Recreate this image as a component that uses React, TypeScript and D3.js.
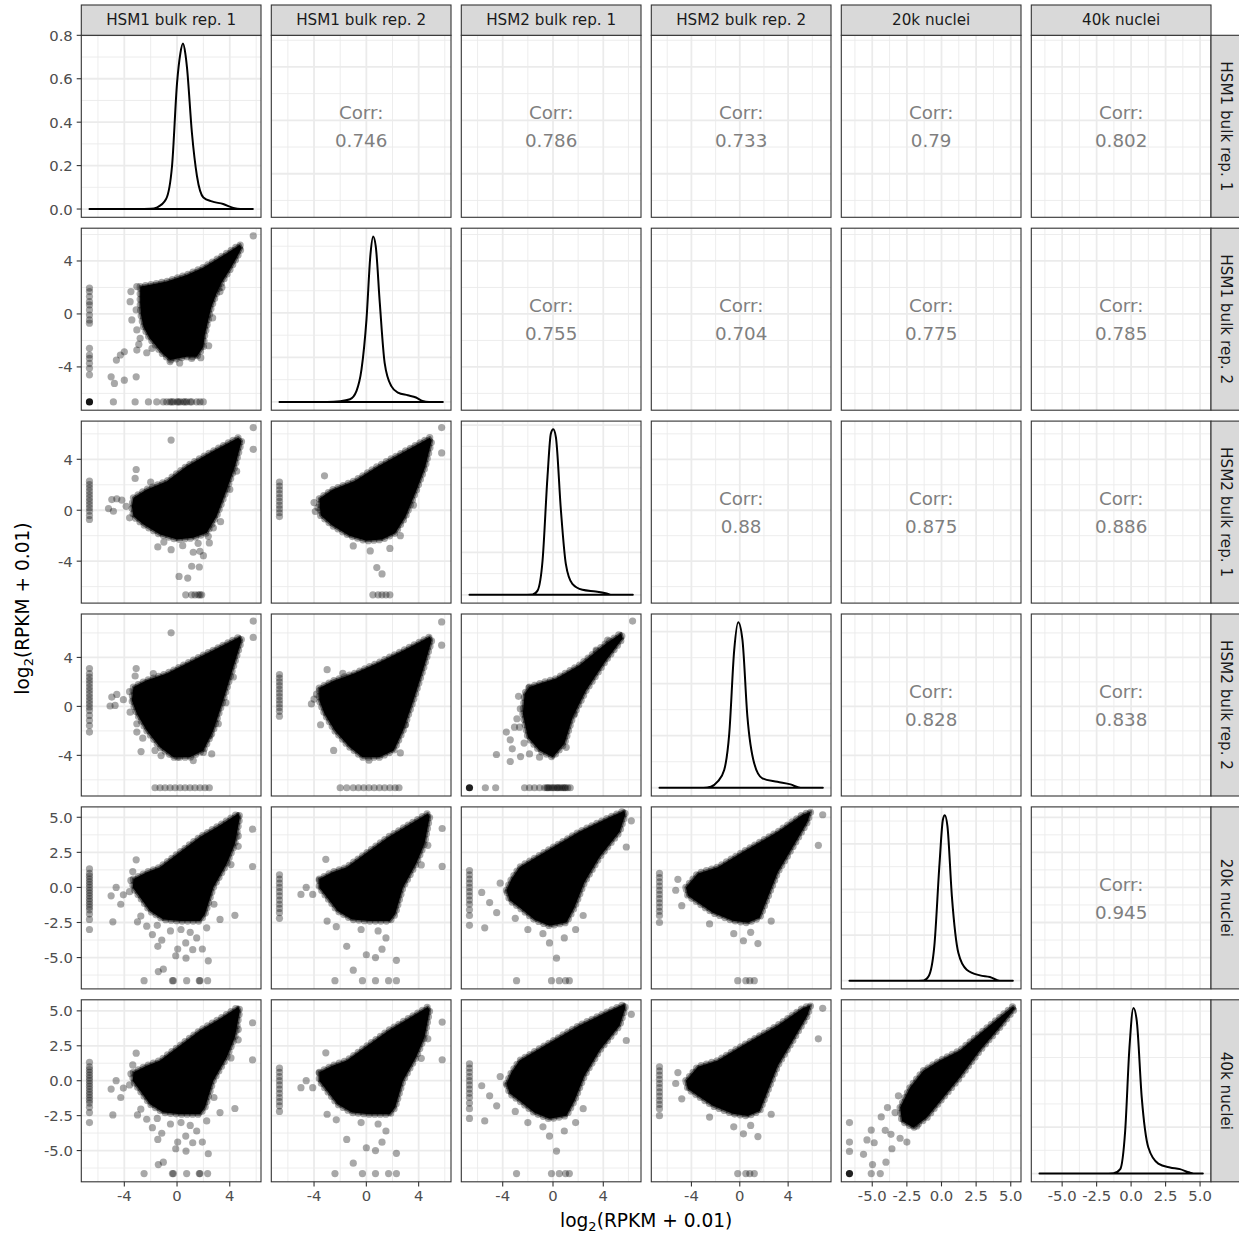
import React from "react";
import * as d3 from "d3";

type Pt = [number, number];

// ---------------- data ----------------
const LOG0 = -6.644; // log2(0 + 0.01)
const VARS = ["HSM1 bulk rep. 1", "HSM1 bulk rep. 2", "HSM2 bulk rep. 1", "HSM2 bulk rep. 2", "20k nuclei", "40k nuclei"];
const VAR_MAX = [5.75, 5.85, 6.35, 6.87, 5.15, 5.2];
const AXIS_STEP = [4, 4, 4, 4, 2.5, 2.5];
const DENS_STEP = 0.2;

const CORR: [number, number, string][] = [
  [0, 1, "0.746"], [0, 2, "0.786"], [0, 3, "0.733"], [0, 4, "0.79"], [0, 5, "0.802"],
  [1, 2, "0.755"], [1, 3, "0.704"], [1, 4, "0.775"], [1, 5, "0.785"],
  [2, 3, "0.88"], [2, 4, "0.875"], [2, 5, "0.886"],
  [3, 4, "0.828"], [3, 5, "0.838"],
  [4, 5, "0.945"],
];

const DENS_1: Pt[] = [[-6.644, 0], [-3, 0], [-2, 0.001], [-1.5, 0.008], [-0.83, 0.046], [-0.38, 0.198], [0, 0.58], [0.25, 0.716], [0.45, 0.762], [0.63, 0.716], [0.75, 0.655], [1.13, 0.35], [1.51, 0.152], [2.0, 0.053], [2.64, 0.035], [3.5, 0.023], [4.27, 0.005], [4.8, 0], [5.75, 0]];
const DENS_2: Pt[] = [[-6.644, 0], [-3, 0], [-2, 0.003], [-1.25, 0.012], [-0.75, 0.05], [-0.37, 0.146], [0.01, 0.37], [0.32, 0.667], [0.52, 0.744], [0.72, 0.70], [1.03, 0.444], [1.4, 0.176], [1.91, 0.071], [2.42, 0.042], [3.17, 0.03], [3.8, 0.02], [4.3, 0.004], [4.8, 0], [5.85, 0]];
const DENS_3: Pt[] = [[-6.644, 0], [-2.5, 0], [-1.62, 0.002], [-1.23, 0.02], [-0.83, 0.162], [-0.44, 0.555], [-0.17, 0.76], [0.02, 0.78], [0.23, 0.743], [0.63, 0.398], [1.02, 0.146], [1.54, 0.052], [2.34, 0.024], [3.4, 0.016], [4.19, 0.008], [4.71, 0], [6.35, 0]];
const DENS_4: Pt[] = [[-6.644, 0], [-3, 0], [-2.39, 0.004], [-1.84, 0.023], [-1.29, 0.068], [-0.87, 0.209], [-0.46, 0.53], [-0.13, 0.636], [0.22, 0.568], [0.63, 0.273], [1.19, 0.094], [1.87, 0.036], [3.11, 0.023], [4.2, 0.013], [5.03, 0], [6.87, 0]];
const DENS_5: Pt[] = [[-6.644, 0], [-2, 0], [-1.29, 0.001], [-0.93, 0.019], [-0.52, 0.15], [-0.14, 0.516], [0.1, 0.706], [0.24, 0.726], [0.43, 0.677], [0.75, 0.37], [1.22, 0.121], [1.82, 0.048], [2.78, 0.023], [3.49, 0.016], [4.21, 0], [5.15, 0]];
const DENS_6: Pt[] = [[-6.644, 0], [-2, 0], [-1.28, 0.001], [-0.79, 0.019], [-0.43, 0.184], [-0.12, 0.543], [0.17, 0.713], [0.41, 0.658], [0.77, 0.328], [1.25, 0.112], [1.97, 0.043], [2.82, 0.026], [3.54, 0.019], [4.26, 0.004], [4.7, 0], [5.2, 0]];
const DENSITIES = [DENS_1, DENS_2, DENS_3, DENS_4, DENS_5, DENS_6];

// scatter panels: dense core outline, points at x = LOG0 (y values), points at y = LOG0 (x values), other points
const HULL_21: Pt[] = [[-2.8, 2.07], [-2.05, 2.2], [-0.8, 2.45], [0.73, 2.95], [2.0, 3.5], [2.75, 3.96], [3.8, 4.6], [4.77, 5.23], [4.9, 4.98], [4.5, 4.2], [4.0, 3.33], [3.4, 2.4], [3.0, 1.57], [2.6, 0.5], [2.37, -0.45], [2.1, -1.6], [2.0, -2.48], [1.5, -3.23], [0.73, -3.23], [-0.53, -3.48], [-1.1, -3.0], [-1.54, -2.48], [-2.1, -1.8], [-2.55, -0.96], [-2.75, 0.0], [-2.8, 0.81]];
const ZX_21 = [1.95, 1.69, 1.31, 0.93, 0.68, 0.3, -0.08, -0.45, -0.7, -2.6, -3.1, -3.36, -3.73, -4.1, -4.6];
const ZY_21 = [-4.83, -3.18, -2.17, -1.54, -1.04, -0.78, -0.53, -0.28, 0, 0.23, 0.48, 0.73, 1.11, 1.49, 1.74, 1.99, -0.4, 0.1, 0.6, 1.0];
const PTS_21: Pt[] = [[-5, -4.75], [-4.75, -5.25], [-4.0, -5.0], [-3.1, -4.75], [-4.6, -3.48], [-4.3, -3.1], [-4.0, -2.86], [-3.05, -2.73], [-2.3, -2.93], [-2.8, -1.84], [-3.05, -1.21], [-3.43, -0.45], [-3.56, 0.93], [-3.5, 1.69], [-3.05, 2.07], [5.78, 5.9], [3.26, 1.69], [-0.53, -3.6], [1.11, -3.36], [-3.1, 0.3], [-2.9, -2.3], [-1.9, -2.6], [0.2, -3.7], [1.8, -3.3], [2.4, -2.4], [2.7, -0.3], [3.4, 2.0]];

const HULL_31: Pt[] = [[-3.31, 0.98], [-2.3, 1.63], [-0.78, 2.28], [0.73, 3.46], [2.75, 4.65], [4.64, 5.7], [4.9, 5.43], [4.4, 3.46], [3.77, 1.63], [3.0, -0.47], [2.25, -1.78], [1.23, -2.17], [0.0, -2.3], [-1.29, -1.91], [-2.55, -1.13], [-3.31, -0.47], [-3.43, 0.31]];
const ZX_31 = [2.28, 2.02, 1.76, 1.5, 1.23, 0.97, 0.71, 0.45, 0.18, -0.08, -0.42, -0.73];
const ZY_31 = [0.66, 1.11, 1.36, 1.61, 1.74, 1.87];
const PTS_31: Pt[] = [[-0.45, 5.51], [-3.1, 3.2], [-3.18, 2.5], [-4.95, 0.84], [-4.57, 0.9], [-4.19, 0.79], [-5.2, 0.13], [-4.83, -0.08], [-3.86, 0.31], [-1.46, -2.88], [-0.45, -3.1], [0.43, -2.78], [1.23, -3.3], [1.74, -3.23], [2.0, -3.57], [2.45, -2.57], [2.37, -2.05], [2.75, -1.39], [1.11, -4.4], [1.69, -4.46], [0.15, -5.2], [0.81, -5.33], [5.78, 6.49], [5.78, 4.78], [4.52, 3.07], [4.0, 1.63], [-3.6, -0.6], [-2.0, 2.2], [-1.0, -2.5], [1.6, -2.6], [3.3, -0.9]];

const HULL_32: Pt[] = [[-3.6, 0.9], [-2.6, 1.6], [-0.9, 2.3], [0.8, 3.4], [2.9, 4.6], [4.85, 5.7], [5.0, 5.45], [4.5, 3.4], [3.8, 1.5], [3.0, -0.5], [2.2, -1.8], [1.2, -2.3], [0.0, -2.4], [-1.3, -2.0], [-2.6, -1.2], [-3.5, -0.4]];
const ZX_32 = [2.2, 1.9, 1.6, 1.3, 1.0, 0.7, 0.4, 0.1, -0.2, -0.5];
const ZY_32 = [0.5, 0.9, 1.2, 1.5, 1.8];
const PTS_32: Pt[] = [[5.76, 6.49], [5.76, 4.5], [-4.0, 0.6], [-3.9, -0.1], [0.8, -4.5], [1.2, -5.0], [0.3, -3.2], [1.8, -3.0], [-1.0, -2.8], [-3.2, 2.7], [-3.7, 0.2], [2.6, -2.0], [3.6, 0.4]];

const HULL_41: Pt[] = [[-3.31, 1.58], [-2.3, 2.13], [-0.78, 2.68], [0.73, 3.5], [2.75, 4.59], [4.77, 5.68], [4.9, 5.41], [4.27, 3.22], [3.5, 0.49], [2.75, -1.97], [2.0, -3.6], [0.98, -4.15], [-0.28, -4.15], [-1.29, -3.34], [-2.3, -1.97], [-3.05, -0.6], [-3.43, 0.49]];
const ZX_41 = [3.09, 2.68, 2.4, 2.13, 1.86, 1.58, 1.31, 1.04, 0.76, 0.49, 0.22, -0.05, -0.33, -0.74, -1.15, -1.56, -2.1];
const ZY_41 = [-1.67, -1.29, -0.91, -0.53, -0.15, 0.23, 0.61, 0.98, 1.36, 1.74, 2.12, 2.45];
const PTS_41: Pt[] = [[-0.45, 6.01], [5.78, 6.97], [5.78, 5.63], [-3.1, 3.09], [-3.18, 2.48], [-1.8, 2.68], [-4.95, 0.76], [-4.57, 0.98], [-4.07, 0.55], [-5.08, 0.03], [-4.7, 0.08], [-3.56, -0.47], [-3.05, -1.42], [-3.05, -2.1], [-2.73, -3.69], [-1.67, -3.6], [-1.21, -4.02], [0.05, -4.15], [1.23, -4.43], [2.0, -3.75], [2.63, -3.88], [2.5, -2.38], [3.13, -1.42], [4.27, 2.4], [-3.6, 1.2], [-2.6, -2.6], [3.7, 0.3]];

const HULL_42: Pt[] = [[-3.6, 1.5], [-2.5, 2.1], [-0.9, 2.7], [0.8, 3.5], [2.9, 4.6], [4.85, 5.68], [5.0, 5.4], [4.4, 3.2], [3.6, 0.5], [2.8, -2.0], [2.1, -3.6], [1.0, -4.15], [-0.3, -4.15], [-1.3, -3.3], [-2.4, -2.0], [-3.2, -0.6], [-3.6, 0.5]];
const ZX_42 = [2.6, 2.3, 2.0, 1.7, 1.4, 1.1, 0.8, 0.5, 0.2, -0.1, -0.4, -0.8];
const ZY_42 = [-2.0, -1.5, -1.0, -0.6, -0.2, 0.2, 0.6, 1.0, 1.4, 1.8, 2.2, 2.5];
const PTS_42: Pt[] = [[5.76, 6.9], [5.76, 5.0], [-4.0, 0.6], [-4.2, 0.2], [-3.5, -1.5], [-2.5, -3.6], [2.6, -3.8], [0.2, -4.4], [-1.8, 2.7], [-3.0, 3.0], [-3.8, 1.0], [3.0, -1.5]];

const HULL_43: Pt[] = [[-1.87, 1.58], [-1.07, 1.86], [0.25, 2.27], [2.1, 3.36], [4.22, 5.14], [5.41, 5.96], [5.54, 5.55], [4.22, 3.77], [2.63, 1.31], [1.57, -0.87], [0.91, -3.06], [-0.02, -4.15], [-1.07, -3.61], [-2.0, -2.52], [-2.4, -0.6], [-2.26, 1.04]];
const ZX_43: number[] = [];
const ZY_43 = [-5.38, -4.56, -2.26, -1.87, -1.47, -1.07, -0.67, -0.41, -0.14, 0.12, 0.38, 0.65, 0.91, 1.17, 1.37, -0.5, 0.0, 0.5, 1.0, -0.3, 0.3, 0.8];
const PTS_43: Pt[] = [[6.33, 6.97], [-2.74, 0.82], [-2.87, -1.01], [-3.06, -1.7], [-2.66, -1.7], [-3.71, -2.1], [-3.4, -2.73], [-3.24, -3.47], [-4.5, -3.93], [-3.4, -4.5], [-2.58, -4.1], [-1.87, -3.88], [-1.07, -4.15], [1.05, -3.34], [1.71, -0.6], [3.43, 4.59], [4.35, 5.41], [-2.6, -0.2], [-2.3, -3.0]];

const HULL_61: Pt[] = [[-3.31, 0.6], [-2.3, 1.08], [-1.29, 1.44], [0.23, 2.52], [1.74, 3.6], [3.26, 4.44], [4.64, 5.27], [4.77, 5.04], [4.39, 3.12], [3.77, 1.68], [2.75, 0.0], [2.12, -1.92], [1.74, -2.4], [0.23, -2.4], [-1.04, -2.28], [-2.05, -1.68], [-2.8, -0.72], [-3.36, 0.0]];
const ZX_61 = [1.32, 1.0, 0.8, 0.6, 0.4, 0.2, 0.0, -0.2, -0.4, -0.6, -0.8, -1.0, -1.2, -1.4, -1.6, -1.9, -2.28, -3.0];
const ZY_61 = [-2.5, -0.35, -0.28, 0.73, 1.69, 1.74, 2.32];
const PTS_61: Pt[] = [[-3.1, 1.97], [-3.36, 1.13], [-4.62, 0], [-5.0, -0.6], [-4.07, -0.53], [-4.27, -1.2], [-4.87, -2.45], [-3.0, -2.45], [-2.75, -2.04], [-2.3, -2.76], [-1.87, -3.36], [-1.46, -4.2], [-1.16, -3.76], [-1.42, -6.0], [-1.04, -5.83], [-0.1, -4.87], [0.05, -4.39], [0.68, -5.04], [0.66, -3.96], [1.19, -4.44], [1.92, -4.39], [2.37, -5.23], [1.49, -3.6], [2.25, -2.88], [3.26, -2.28], [4.39, -1.99], [4.09, 1.63], [4.64, 2.93], [4.64, 3.67], [5.73, 4.15], [5.73, 1.49], [-3.6, -0.3], [-3.5, 0.5], [0.3, -3.0], [1.0, -3.2], [-0.5, -3.1], [-1.5, -2.7], [2.8, -1.2]];

const HULL_62: Pt[] = [[-3.6, 0.6], [-2.6, 1.08], [-1.5, 1.44], [0.1, 2.52], [1.7, 3.6], [3.2, 4.44], [4.7, 5.27], [4.85, 5.04], [4.45, 3.12], [3.8, 1.68], [2.8, 0.0], [2.2, -1.92], [1.8, -2.4], [0.2, -2.4], [-1.1, -2.28], [-2.2, -1.68], [-3.0, -0.72], [-3.6, 0.0]];
const ZX_62 = [0.9, 0.6, 0.3, 0.0, -0.3, -0.6, -0.9, -1.2, -1.5, -1.8, -2.2];
const ZY_62 = [-2.4, -0.3, 0.7, 1.7, 2.3];
const PTS_62: Pt[] = [[-4.6, 0], [-5.0, -0.5], [-4.1, -0.5], [-3.0, -2.4], [-2.3, -2.8], [-1.5, -4.2], [-1.0, -5.9], [0.0, -4.8], [0.7, -5.0], [1.2, -4.4], [2.3, -5.2], [1.5, -3.6], [4.2, 1.6], [4.7, 3.0], [5.8, 4.2], [5.8, 1.5], [-3.1, 2.0], [-0.4, -3.0], [0.9, -3.1]];

const HULL_63: Pt[] = [[-3.7, -0.2], [-3.3, 0.6], [-2.66, 1.44], [-0.67, 2.5], [2.1, 3.96], [4.5, 5.0], [5.67, 5.47], [5.75, 5.2], [5.3, 3.96], [3.7, 2.16], [2.5, 0.36], [1.7, -1.44], [1.07, -2.5], [-0.28, -2.73], [-1.47, -2.3], [-2.66, -1.44], [-3.45, -0.9]];
const ZX_63 = [1.2, 0.9, 0.6, 0.3, 0.0, -0.3, -0.6, -0.9, -1.2, -1.6, -2.0, -2.7];
const ZY_63 = [-2.9, -0.12, 0.5, 1.0, 1.3];
const PTS_63: Pt[] = [[-5.67, -0.36], [-5.04, -1.08], [-4.48, -1.8], [-5.43, -2.88], [-4.2, 0.3], [-0.28, -3.96], [0.28, -5.04], [-0.8, -3.3], [0.9, -3.6], [1.8, -3.0], [6.23, 4.75], [5.83, 2.88], [-2.0, -3.0], [-3.0, -2.2], [2.4, -2.0]];

const HULL_64: Pt[] = [[-4.46, 0], [-3.47, 1.0], [-1.82, 1.44], [0.25, 2.52], [3.14, 3.96], [5.2, 5.18], [5.87, 5.4], [5.6, 4.68], [4.38, 2.88], [3.14, 1.08], [2.31, -0.72], [1.65, -2.16], [0.66, -2.52], [-0.58, -2.37], [-2.23, -1.8], [-3.47, -1.08], [-4.3, -0.58]];
const ZX_64 = [1.0, 0.7, 0.4, 0.1, -0.2, -0.5, -0.8, -1.1, -1.4, -1.7, -2.0, -2.5];
const ZY_64 = [-0.17, 0.5, 0.83, 1.2];
const PTS_64: Pt[] = [[-5.12, 0.58], [-5.3, -0.2], [-4.8, -1.3], [-0.5, -3.3], [0.3, -3.8], [0.9, -3.2], [1.5, -4.0], [6.86, 5.18], [6.5, 3.0], [-2.5, -2.6], [2.6, -2.4]];

const HULL_65: Pt[] = [[-2.99, -1.92], [-2.27, -0.48], [-1.31, 0.72], [-0.11, 1.44], [1.33, 2.16], [2.77, 3.36], [4.21, 4.55], [5.17, 5.32], [5.29, 5.16], [4.21, 3.83], [2.77, 2.16], [1.33, 0.24], [0.13, -1.2], [-1.06, -2.64], [-2.03, -3.36], [-2.86, -2.88]];
const ZX_65 = [-3.0, -4.39, -5.06];
const ZY_65 = [-5.07, -4.42];
const PTS_65: Pt[] = [[-4.98, -6.0], [-4.01, -5.83], [-5.63, -5.27], [-5.38, -4.24], [-4.86, -4.44], [-5.07, -3.53], [-3.58, -4.87], [-4.35, -2.59], [-3.9, -1.92], [-4.06, -3.55], [-3.65, -3.84], [-2.99, -4.12], [-2.5, -4.39], [-3.11, -1.08], [-1.78, -3.24], [-3.35, -2.28]];

interface Scatter { row: number; col: number; hull: Pt[]; zx: number[]; zy: number[]; corner: number; pts: Pt[]; }
const SCATTERS: Scatter[] = [
  { row: 1, col: 0, hull: HULL_21, zx: ZX_21, zy: ZY_21, corner: 6, pts: PTS_21 },
  { row: 2, col: 0, hull: HULL_31, zx: ZX_31, zy: ZY_31, corner: 0, pts: PTS_31 },
  { row: 2, col: 1, hull: HULL_32, zx: ZX_32, zy: ZY_32, corner: 0, pts: PTS_32 },
  { row: 3, col: 0, hull: HULL_41, zx: ZX_41, zy: ZY_41, corner: 0, pts: PTS_41 },
  { row: 3, col: 1, hull: HULL_42, zx: ZX_42, zy: ZY_42, corner: 0, pts: PTS_42 },
  { row: 3, col: 2, hull: HULL_43, zx: ZX_43, zy: ZY_43, corner: 5, pts: PTS_43 },
  { row: 4, col: 0, hull: HULL_61, zx: ZX_61, zy: ZY_61, corner: 0, pts: PTS_61 },
  { row: 4, col: 1, hull: HULL_62, zx: ZX_62, zy: ZY_62, corner: 0, pts: PTS_62 },
  { row: 4, col: 2, hull: HULL_63, zx: ZX_63, zy: ZY_63, corner: 0, pts: PTS_63 },
  { row: 4, col: 3, hull: HULL_64, zx: ZX_64, zy: ZY_64, corner: 0, pts: PTS_64 },
  { row: 5, col: 0, hull: HULL_61, zx: ZX_61, zy: ZY_61, corner: 0, pts: PTS_61 },
  { row: 5, col: 1, hull: HULL_62, zx: ZX_62, zy: ZY_62, corner: 0, pts: PTS_62 },
  { row: 5, col: 2, hull: HULL_63, zx: ZX_63, zy: ZY_63, corner: 0, pts: PTS_63 },
  { row: 5, col: 3, hull: HULL_64, zx: ZX_64, zy: ZY_64, corner: 0, pts: PTS_64 },
  { row: 5, col: 4, hull: HULL_65, zx: ZX_65, zy: ZY_65, corner: 5, pts: PTS_65 },
];

// ---------------- layout ----------------
const W = 1239, H = 1237;
const L0 = 81.3, T0 = 35.3, PW = 179.7, PH = 182, DX = 190, DY = 192.9;
const FONT = "DejaVu Sans, sans-serif";
const GRID = "#ebebeb";
const PT_R = 3.6, PT_A = 0.34;

const expand = (lo: number, hi: number): [number, number] => { const r = hi - lo; return [lo - 0.05 * r, hi + 0.05 * r]; };
function gridVals(domain: number[], step: number) {
  const [a, b] = domain; const h = step / 2; const majors: number[] = []; const minors: number[] = [];
  for (let k = Math.ceil(a / h - 1e-9); k * h <= b + 1e-9; k++) { const v = +(k * h).toFixed(6); (Math.abs(k) % 2 === 0 ? majors : minors).push(v); }
  return { majors, minors };
}
const fmt = (v: number, step: number) => (step === 4 ? String(Math.round(v)) : v.toFixed(1));

export default function App() {
  const xs = VAR_MAX.map((mx) => d3.scaleLinear().domain(expand(LOG0, mx)).range([0, PW]));
  const ys = VAR_MAX.map((mx) => d3.scaleLinear().domain(expand(LOG0, mx)).range([PH, 0]));
  const dys = DENSITIES.map((d) => { const p = d3.max(d, (e) => e[1]) as number; return d3.scaleLinear().domain([-0.05 * p, 1.05 * p]).range([PH, 0]); });
  const colX = (c: number) => L0 + c * DX;
  const rowY = (r: number) => T0 + r * DY;

  const panels: React.ReactNode[] = [];
  for (let r = 0; r < 6; r++) {
    for (let c = 0; c < 6; c++) {
      const xsc = xs[c];
      const ysc = r === c ? dys[r] : ys[r];
      const xg = gridVals(xsc.domain(), AXIS_STEP[c]);
      const yg = gridVals(ysc.domain(), r === c ? DENS_STEP : AXIS_STEP[r]);
      const id = `clip-${r}-${c}`;
      let content: React.ReactNode = null;
      if (r === c) {
        const line = d3.line<Pt>().x((d) => xsc(d[0])).y((d) => ysc(d[1])).curve(d3.curveMonotoneX);
        content = <path d={(line(DENSITIES[r]) || "") + "Z"} fill="none" stroke="#000" strokeWidth={2} strokeLinejoin="round" />;
      } else if (r < c) {
        const cv = CORR.find((e) => e[0] === r && e[1] === c);
        content = (
          <g fontFamily={FONT} fontSize={18.3} fill="#7f7f7f" textAnchor="middle">
            <text x={PW / 2} y={PH / 2 - 13.5} dominantBaseline="central">Corr:</text>
            <text x={PW / 2} y={PH / 2 + 14.5} dominantBaseline="central">{cv ? cv[2] : ""}</text>
          </g>
        );
      } else {
        const s = SCATTERS.find((e) => e.row === r && e.col === c);
        if (s) {
          const hull = d3.line<Pt>().x((d) => xsc(d[0])).y((d) => ysc(d[1])).curve(d3.curveLinearClosed);
          const hd = hull(s.hull) || "";
          const all: Pt[] = [
            ...s.zx.map((v) => [LOG0, v] as Pt),
            ...s.zy.map((v) => [v, LOG0] as Pt),
            ...s.pts,
          ];
          content = (
            <g>
              {all.map((p, i) => <circle key={i} cx={xsc(p[0])} cy={ysc(p[1])} r={PT_R} fill="#000" fillOpacity={PT_A} />)}
              {s.corner > 0 && <circle cx={xsc(LOG0)} cy={ysc(LOG0)} r={PT_R} fill="#000" fillOpacity={1 - Math.pow(1 - PT_A, s.corner)} />}
              <path d={hd} fill="none" stroke="#000" strokeOpacity={0.5} strokeWidth={3} strokeLinejoin="round" />
              <path d={hd} fill="none" stroke="#000" strokeOpacity={PT_A} strokeWidth={PT_R * 2} strokeLinecap="round" strokeDasharray="0 11" />
              <path d={hd} fill="none" stroke="#000" strokeOpacity={PT_A} strokeWidth={PT_R * 2} strokeLinecap="round" strokeDasharray="0 11" strokeDashoffset={5.5} />
              <path d={hd} fill="#000" />
            </g>
          );
        }
      }
      panels.push(
        <g key={id} transform={`translate(${colX(c)},${rowY(r)})`}>
          <clipPath id={id}><rect x={0} y={0} width={PW} height={PH} /></clipPath>
          <rect x={0} y={0} width={PW} height={PH} fill="#fff" />
          <g clipPath={`url(#${id})`}>
            {xg.minors.map((v) => <line key={"xm" + v} x1={xsc(v)} x2={xsc(v)} y1={0} y2={PH} stroke={GRID} strokeWidth={0.9} />)}
            {yg.minors.map((v) => <line key={"ym" + v} y1={ysc(v)} y2={ysc(v)} x1={0} x2={PW} stroke={GRID} strokeWidth={0.9} />)}
            {xg.majors.map((v) => <line key={"xM" + v} x1={xsc(v)} x2={xsc(v)} y1={0} y2={PH} stroke={GRID} strokeWidth={1.8} />)}
            {yg.majors.map((v) => <line key={"yM" + v} y1={ysc(v)} y2={ysc(v)} x1={0} x2={PW} stroke={GRID} strokeWidth={1.8} />)}
            {content}
          </g>
          <rect x={0} y={0} width={PW} height={PH} fill="none" stroke="#333" strokeWidth={1.1} />
        </g>
      );
    }
  }

  // axes
  const axes: React.ReactNode[] = [];
  for (let r = 0; r < 6; r++) {
    const sc = r === 0 ? dys[0] : ys[r];
    const step = r === 0 ? DENS_STEP : AXIS_STEP[r];
    const { majors } = gridVals(sc.domain(), step);
    majors.forEach((v) => {
      const y = rowY(r) + sc(v);
      axes.push(<line key={`yt${r}${v}`} x1={L0 - 4.6} x2={L0} y1={y} y2={y} stroke="#333" strokeWidth={1.1} />);
      axes.push(<text key={`yl${r}${v}`} x={L0 - 8.5} y={y} textAnchor="end" dominantBaseline="central" fontFamily={FONT} fontSize={14.8} fill="#4d4d4d">{r === 0 ? v.toFixed(1) : fmt(v, step)}</text>);
    });
  }
  const yb = rowY(5) + PH;
  for (let c = 0; c < 6; c++) {
    const { majors } = gridVals(xs[c].domain(), AXIS_STEP[c]);
    majors.forEach((v) => {
      const x = colX(c) + xs[c](v);
      axes.push(<line key={`xt${c}${v}`} x1={x} x2={x} y1={yb} y2={yb + 4.6} stroke="#333" strokeWidth={1.1} />);
      axes.push(<text key={`xl${c}${v}`} x={x} y={yb + 19} textAnchor="middle" fontFamily={FONT} fontSize={14.8} fill="#4d4d4d">{fmt(v, AXIS_STEP[c])}</text>);
    });
  }

  const strips: React.ReactNode[] = [];
  VARS.forEach((name, i) => {
    strips.push(
      <g key={"st" + i}>
        <rect x={colX(i)} y={5} width={PW} height={T0 - 5} fill="#d9d9d9" stroke="#333" strokeWidth={1.1} />
        <text x={colX(i) + PW / 2} y={5 + (T0 - 5) / 2} textAnchor="middle" dominantBaseline="central" fontFamily={FONT} fontSize={15.2} fill="#1a1a1a">{name}</text>
        <rect x={colX(5) + PW} y={rowY(i)} width={30} height={PH} fill="#d9d9d9" stroke="#333" strokeWidth={1.1} />
        <text transform={`translate(${colX(5) + PW + 14.5},${rowY(i) + PH / 2}) rotate(90)`} textAnchor="middle" dominantBaseline="central" fontFamily={FONT} fontSize={15.2} fill="#1a1a1a">{name}</text>
      </g>
    );
  });

  const cx = L0 + (5 * DX + PW) / 2;
  const cy = T0 + (5 * DY + PH) / 2;
  const Title = () => (
    <>
      log<tspan fontSize={13} dy={4}>2</tspan><tspan dy={-4}>(RPKM + 0.01)</tspan>
    </>
  );

  return (
    <svg width={W} height={H} style={{ position: "absolute", left: 0, top: 0, background: "#fff" }} xmlns="http://www.w3.org/2000/svg">
      <rect x={0} y={0} width={W} height={H} fill="#fff" />
      {panels}
      {axes}
      {strips}
      <text x={cx} y={1227} textAnchor="middle" fontFamily={FONT} fontSize={18.6} fill="#000"><Title /></text>
      <text transform={`translate(29,${cy}) rotate(-90)`} textAnchor="middle" fontFamily={FONT} fontSize={18.6} fill="#000"><Title /></text>
    </svg>
  );
}
